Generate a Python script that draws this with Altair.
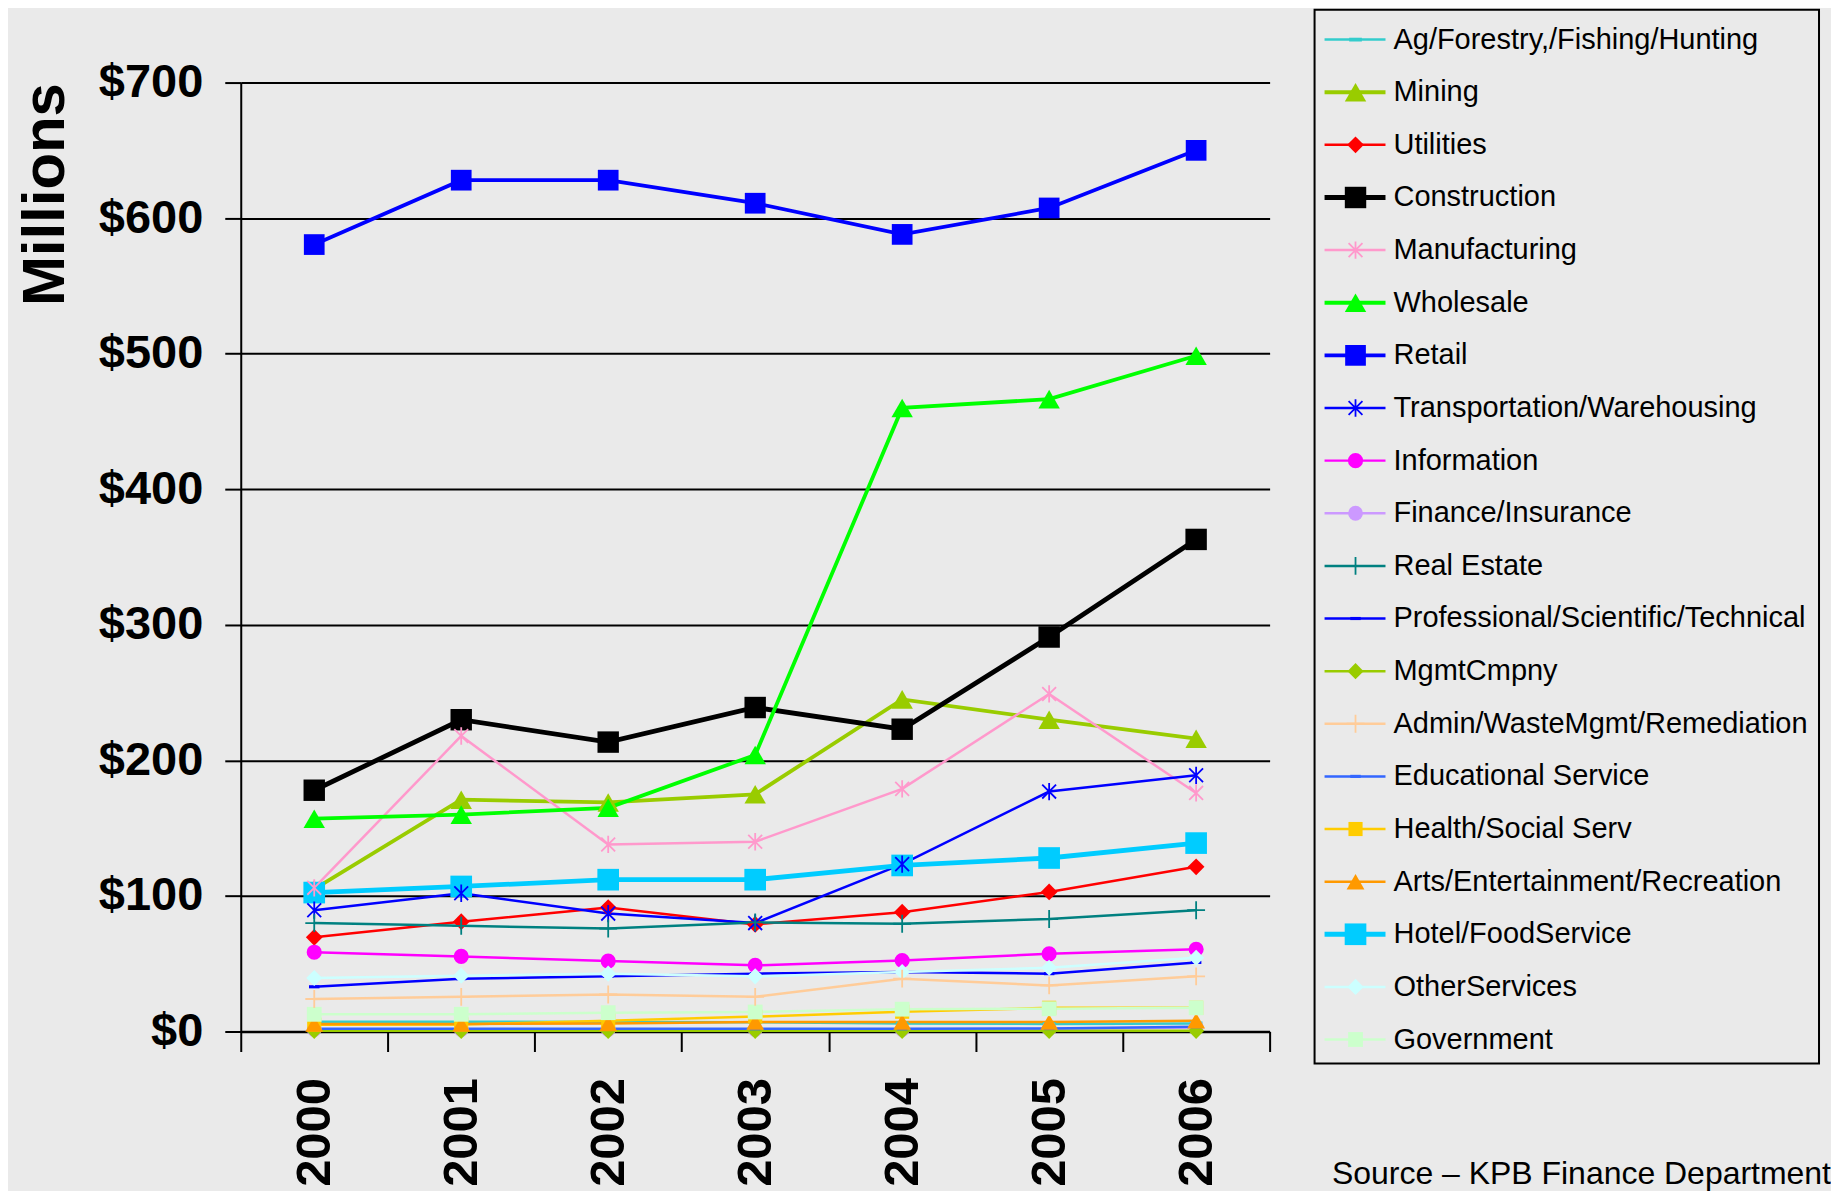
import altair as alt
import pandas as pd

years = ["2000", "2001", "2002", "2003", "2004", "2005", "2006"]

series = [
    "Ag/Forestry,/Fishing/Hunting", "Mining", "Utilities", "Construction",
    "Manufacturing", "Wholesale", "Retail", "Transportation/Warehousing",
    "Information", "Finance/Insurance", "Real Estate",
    "Professional/Scientific/Technical", "MgmtCmpny",
    "Admin/WasteMgmt/Remediation", "Educational Service", "Health/Social Serv",
    "Arts/Entertainment/Recreation", "Hotel/FoodService", "OtherServices",
    "Government",
]

ag = [7.3, 7.3, 7.0, 6.8, 6.0, 5.6, 6.0]
mining = [105, 171, 169, 175, 245, 230, 216]
utilities = [69.5, 81, 91.5, 79, 88, 103, 121.5]
construction = [178, 230, 213.5, 239, 223, 291, 363]
manufacturing = [106, 218, 138, 140, 179, 249, 176]
wholesale = [157, 160, 165, 204, 460, 466.5, 498.5]
retail = [580.5, 628, 628, 611, 588, 607.5, 650]
transportation = [89.5, 102, 87, 80, 123.5, 177, 189]
information = [58.5, 55.4, 52, 48.8, 52.4, 57.3, 60.7]
finance = [1.5, 1.5, 1.5, 1.5, 1.5, 2.0, 3.0]
real_estate = [80, 78, 76, 80.5, 79.5, 83, 89.5]
professional = [33, 39, 40.7, 42.7, 44, 42.7, 51]
mgmt = [0.5, 0.5, 0.5, 0.5, 0.5, 0.5, 0.5]
admin = [24, 25.6, 27.3, 25.6, 39, 34, 40.7]
educational = [2.0, 2.0, 2.0, 2.0, 2.0, 2.2, 3.5]
health = [5.0, 5.2, 8.0, 11.0, 14.6, 17.5, 17.5]
arts = [5.6, 5.6, 6.0, 7.0, 7.0, 7.0, 8.0]
hotel = [102.5, 107, 112, 112, 122.5, 128, 139]
other = [39.5, 41.2, 42.7, 40.7, 43.9, 47, 54.4]
government = [12.7, 12.7, 13.9, 14.4, 16.5, 16.8, 17.5]

all_values = [ag, mining, utilities, construction, manufacturing, wholesale,
              retail, transportation, information, finance, real_estate,
              professional, mgmt, admin, educational, health, arts, hotel,
              other, government]

# ---- styles ----
colors = ["#33CCCC", "#99CC00", "#FF0000", "#000000", "#FF99CC", "#00FF00",
          "#0000FF", "#0000FF", "#FF00FF", "#CC99FF", "#008080", "#0000FF",
          "#99CC00", "#FFCC99", "#3366FF", "#FFCC00", "#FF9900", "#00CCFF",
          "#CCFFFF", "#CCFFCC"]

DASH = "M-1,-0.3L1,-0.3L1,0.3L-1,0.3Z"
AST = "M-0.8,-0.8L0.8,0.8M-0.8,0.8L0.8,-0.8M0,-1L0,1"
PLUS = "M-1,0L1,0M0,-1L0,1"
shapes = [DASH, "triangle-up", "diamond", "square", AST, "triangle-up",
          "square", AST, "circle", "circle", PLUS, DASH, "diamond", PLUS,
          DASH, "square", "triangle-up", "square", "diamond", "square"]
sizes = [160, 460, 280, 460, 300, 460, 430, 300, 230, 220, 320, 110, 260,
         320, 110, 200, 320, 470, 260, 220]
widths = [2.5, 3.8, 2.5, 4.8, 2.5, 3.8, 3.8, 2.5, 2.5, 2.5, 2.5, 2.5, 2.5,
          2.5, 2.5, 2.5, 2.5, 4.8, 2.5, 2.5]
filled = [1, 1, 1, 1, 0, 1, 1, 0, 1, 1, 0, 1, 1, 0, 1, 1, 1, 1, 1, 1]

rows = []
for s, vals, f in zip(series, all_values, filled):
    for y, v in zip(years, vals):
        rows.append({"year": y, "series": s, "value": v, "filled": f})
df = pd.DataFrame(rows)
leg_df = pd.DataFrame({"series": series, "filled": filled})

FONT = "Liberation Sans"

color_enc = alt.Color("series:N", scale=alt.Scale(type="ordinal", domain=series, range=colors), legend=None)
shape_enc = alt.Shape("series:N", scale=alt.Scale(type="ordinal", domain=series, range=shapes), legend=None)
size_enc = alt.Size("series:N", scale=alt.Scale(type="ordinal", domain=series, range=sizes), legend=None)
sw_enc = alt.StrokeWidth("series:N", scale=alt.Scale(type="ordinal", domain=series, range=widths), legend=None)

x_enc = alt.X(
    "year:O", sort=years, bandPosition=0.5,
    scale=alt.Scale(type="band", paddingInner=0, paddingOuter=0),
    axis=alt.Axis(
        title=None, labelAngle=-90, labelAlign="right", labelBaseline="middle",
        labelFont=FONT, labelFontSize=49, labelFontWeight="bold",
        labelColor="black", labelPadding=26, labelOverlap=False,
        tickBand="extent", tickSize=20, tickColor="black", tickWidth=2,
        domainColor="black", domainWidth=2.5, grid=False,
    ),
)
y_enc = alt.Y(
    "value:Q",
    scale=alt.Scale(domain=[0, 700], nice=False, zero=True),
    axis=alt.Axis(
        values=[0, 100, 200, 300, 400, 500, 600, 700],
        labelExpr="'$' + datum.value",
        labelFont=FONT, labelFontSize=47, labelFontWeight="bold",
        labelColor="black", labelPadding=22,
        tickSize=16, tickColor="black", tickWidth=2,
        domainColor="black", domainWidth=2,
        grid=True, gridColor="black", gridWidth=2, gridOpacity=1,
        title="Millions", titleFont=FONT, titleFontSize=60,
        titleFontWeight="bold", titleColor="black", titleAnchor="end",
        titlePadding=22,
    ),
)

base = alt.Chart(df)
lines = base.mark_line().encode(x=x_enc, y=y_enc, color=color_enc, strokeWidth=sw_enc)
pts_f = base.transform_filter(alt.datum.filled == 1).mark_point(
    filled=True, opacity=1).encode(x=x_enc, y=y_enc, color=color_enc, shape=shape_enc, size=size_enc)
pts_s = base.transform_filter(alt.datum.filled == 0).mark_point(
    filled=False, opacity=1, strokeWidth=1.8).encode(x=x_enc, y=y_enc, color=color_enc, shape=shape_enc, size=size_enc)
main = alt.layer(lines, pts_f, pts_s)

# ---- legend panel ----
leg_y = alt.Y("series:N", scale=alt.Scale(type="point", domain=series, range=[-43, 958], padding=0), axis=None)
one = pd.DataFrame({"k": [0]})
leg_box = alt.Chart(one).mark_rect(fillOpacity=0, stroke="black", strokeWidth=2).encode(
    x=alt.value(1075), x2=alt.value(1580), y=alt.value(-73), y2=alt.value(982))
lbase = alt.Chart(leg_df)
leg_rule = lbase.mark_rule().encode(
    x=alt.value(1085), x2=alt.value(1146), y=leg_y, color=color_enc, strokeWidth=sw_enc)
leg_pf = lbase.transform_filter(alt.datum.filled == 1).mark_point(filled=True, opacity=1).encode(
    x=alt.value(1116), y=leg_y, color=color_enc, shape=shape_enc, size=size_enc)
leg_ps = lbase.transform_filter(alt.datum.filled == 0).mark_point(filled=False, opacity=1, strokeWidth=1.8).encode(
    x=alt.value(1116), y=leg_y, color=color_enc, shape=shape_enc, size=size_enc)
leg_text = lbase.mark_text(align="left", baseline="middle", font=FONT, fontSize=29, color="black").encode(
    x=alt.value(1154), y=leg_y, text="series:N")
source = alt.Chart(one).mark_text(align="right", baseline="alphabetic", font=FONT, fontSize=32, color="black").encode(
    x=alt.value(1592), y=alt.value(1103), text=alt.value("Source \u2013 KPB Finance Department"))
legend = alt.layer(leg_box, leg_rule, leg_pf, leg_ps, leg_text, source)

chart = alt.layer(main, legend).resolve_scale(y="independent").properties(
    width=1030, height=950, background="#EAEAEA",
    padding={"left": 7, "top": 0, "right": 0, "bottom": 0},
).configure_view(stroke=None)

chart.save("out.html", embed_options={"renderer": "svg", "actions": False})
